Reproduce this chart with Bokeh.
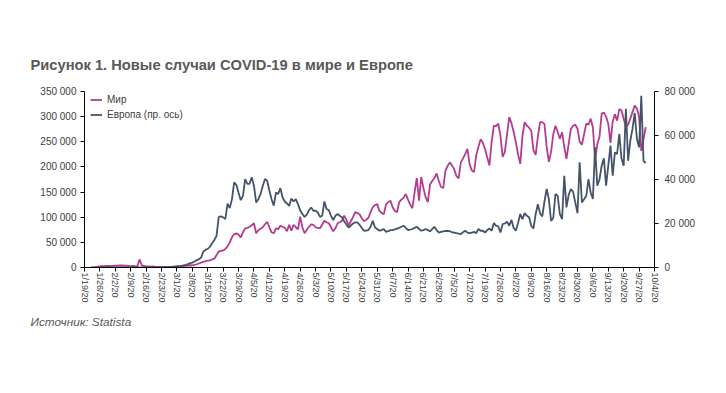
import numpy as np
import pandas as pd
from bokeh.plotting import figure
from bokeh.models import Range1d, LinearAxis, FixedTicker, Title, Legend, LegendItem
from bokeh.embed import file_html
from bokeh.resources import INLINE

# ---------------- data ----------------
axis_start = "2020-01-19"
tick_labels = ["1/19/20", "1/26/20", "2/2/20", "2/9/20", "2/16/20", "2/23/20", "3/1/20",
               "3/8/20", "3/15/20", "3/22/20", "3/29/20", "4/5/20", "4/12/20", "4/19/20",
               "4/26/20", "5/3/20", "5/10/20", "5/17/20", "5/24/20", "5/31/20", "6/7/20",
               "6/14/20", "6/21/20", "6/28/20", "7/5/20", "7/12/20", "7/19/20", "7/26/20",
               "8/2/20", "8/9/20", "8/16/20", "8/23/20", "8/30/20", "9/6/20", "9/13/20",
               "9/20/20", "9/27/20", "10/4/20"]
left_ticks = [0, 50000, 100000, 150000, 200000, 250000, 300000, 350000]
right_ticks = [0, 20000, 40000, 60000, 80000]

world_start = "2020-01-22"
world_cases = [
    500, 700, 1000, 1500,
    2000, 2500, 2800, 3000, 3000, 2800, 3200,
    3500, 3800, 4000, 4200, 3800, 3500, 3200,
    2800, 3000, 2500, 2300, 16000, 5000, 2500,
    2200, 2000, 1800, 2000, 1500, 1200, 1000,
    1200, 1000, 1100, 900, 1200, 1500, 1800,
    2000, 2200, 2000, 2800, 3300, 3800, 4500,
    4000, 5000, 6500, 8000, 9500, 11000, 12500,
    13500, 14000, 16000, 17500, 25000, 32000, 33000,
    34000, 37000, 42000, 50000, 60000, 66000, 68000,
    65000, 60000, 70000, 78000, 78500, 81000, 84000,
    88000, 68000, 74000, 77000, 80000, 86000, 91000,
    80000, 70000, 68000, 78000, 76000, 83000, 81000,
    79000, 72000, 85000, 73000, 85000, 80000, 76000,
    101000, 80000, 68000, 75000, 81000, 86000, 85000,
    80000, 79000, 78000, 85000, 93000, 90000, 88000,
    80000, 72000, 78000, 88000, 90000, 93000, 103000,
    95000, 83000, 92000, 100000, 110000, 108000, 106000,
    98000, 92000, 95000, 99000, 110000, 120000, 124000,
    126000, 113000, 108000, 106000, 125000, 130000, 133000,
    120000, 113000, 110000, 130000, 135000, 139000, 146000,
    135000, 125000, 118000, 150000, 178000, 133000, 180000,
    158000, 140000, 130000, 165000, 172000, 178000, 187000,
    172000, 160000, 158000, 192000, 202000, 209000, 203000,
    195000, 182000, 177000, 209000, 217000, 226000, 236000,
    205000, 193000, 190000, 223000, 240000, 255000, 248000,
    235000, 219000, 203000, 250000, 282000, 281000, 286000,
    262000, 220000, 230000, 265000, 299000, 287000, 270000,
    249000, 225000, 206000, 262000, 289000, 282000, 278000,
    272000, 233000, 224000, 260000, 289000, 289000, 285000,
    240000, 210000, 230000, 265000, 282000, 270000, 256000,
    269000, 240000, 216000, 246000, 275000, 282000, 284000,
    276000, 250000, 244000, 265000, 286000, 284000, 296000,
    279000, 215000, 245000, 260000, 306000, 308000, 300000,
    286000, 248000, 290000, 305000, 292000, 315000, 312000,
    296000, 279000, 284000, 296000, 309000, 322000, 316000,
    300000, 232000, 255000, 279000,
]

europe_start = "2020-01-25"
europe_cases = [
    3,
    5, 10, 15, 10, 20, 15, 10,
    15, 10, 10, 20, 15, 10, 10,
    15, 20, 10, 10, 15, 20, 10,
    15, 10, 10, 20, 30, 25, 40,
    50, 80, 100, 150, 200, 300, 400,
    500, 600, 700, 1000, 1200, 1500, 2000,
    2200, 2700, 3300, 3800, 4500, 7300, 8000,
    8500, 9400, 11000, 12500, 14400, 23000, 23200,
    22800, 22000, 29000, 27000, 31000, 38700, 37600,
    34000, 30600, 32600, 40200, 38000, 38000, 41000,
    37200, 29600, 31000, 33400, 37000, 40200, 39400,
    35000, 31000, 28100, 34100, 33400, 36100, 31800,
    30000, 29100, 28000, 31400, 30000, 31100, 28800,
    26000, 24300, 23000, 24000, 26000, 27300, 25800,
    25800, 25000, 23000, 23500, 30000, 26600, 26100,
    23500, 21600, 23500, 24300, 23500, 22800, 21000,
    19500, 18200, 19000, 20000, 20500, 20500, 19400,
    18000, 16700, 16800, 17000, 18500, 21200, 18200,
    17500, 16700, 17000, 17500, 16200, 16500, 17000,
    17000, 17300, 17700, 18000, 18500, 19000, 18000,
    17000, 17200, 17500, 18000, 18500, 17500, 16700,
    17000, 17500, 17000, 16400, 17500, 18500, 17000,
    15900, 16200, 16400, 16600, 16700, 16500, 16000,
    15900, 15600, 15400, 15200, 16000, 16700, 15900,
    15600, 15900, 16200, 15600, 17500, 16700, 16700,
    15900, 17000, 17700, 16700, 20200, 19000, 18700,
    15900, 19700, 20000, 20800, 19000, 21700, 18000,
    16700, 20200, 24300, 22000, 24700, 23500, 22800,
    19000, 17700, 24300, 28800, 24700, 23200, 30000,
    35700, 31100, 21200, 22500, 33400, 32600, 24300,
    22000, 41700, 27300, 33000, 35700, 34400, 29600,
    24700, 47800, 29600, 31000, 32600, 40200, 34100,
    31100, 54600, 37200, 40000, 46300, 49600, 37200,
    46300, 55400, 41700, 52300, 51600, 60700, 49500,
    46300, 72100, 48500, 57600, 63000, 70300, 58400,
    54600, 78100, 48500, 47500,
]


def day_index(start, n):
    d = pd.date_range(start, periods=n, freq="D")
    return np.asarray((d - pd.Timestamp(axis_start)).days)


world_x = day_index(world_start, len(world_cases))
europe_x = day_index(europe_start, len(europe_cases))
tick_pos = [7 * i for i in range(len(tick_labels))]


def fmt(v):
    return f"{v:,}".replace(",", " ")


FONT = "Liberation Sans"
TXT = "#404040"

p = figure(width=718, height=385, output_backend="svg", toolbar_location=None,
           x_range=Range1d(tick_pos[0], tick_pos[-1]), y_range=Range1d(left_ticks[0], left_ticks[-1]),
           min_border_left=84, min_border_right=64, min_border_top=91, min_border_bottom=118,
           outline_line_color=None, background_fill_color="white", border_fill_color="white")
p.title.visible = False
p.grid.visible = False
p.extra_y_ranges = {"right": Range1d(right_ticks[0], right_ticks[-1])}


def style_axis(ax, ticks, labels, size):
    ax.ticker = FixedTicker(ticks=ticks, minor_ticks=[])
    ax.major_label_overrides = {t: l for t, l in zip(ticks, labels)}
    ax.axis_line_color = "black"
    ax.axis_line_width = 1
    ax.major_tick_line_color = "black"
    ax.major_tick_in = 0
    ax.major_tick_out = 4
    ax.minor_tick_line_color = None
    ax.major_label_text_font = FONT
    ax.major_label_text_font_size = size
    ax.major_label_text_color = TXT


style_axis(p.xaxis[0], tick_pos, tick_labels, "9px")
p.xaxis[0].major_label_orientation = "vertical"
p.xaxis[0].major_label_standoff = 1

style_axis(p.yaxis[0], left_ticks, [fmt(v) for v in left_ticks], "10px")
p.yaxis[0].major_label_standoff = 4

right_axis = LinearAxis(y_range_name="right")
style_axis(right_axis, right_ticks, [fmt(v) for v in right_ticks], "10px")
right_axis.major_label_standoff = 6
p.add_layout(right_axis, "right")

r_world = p.line(world_x, world_cases, line_color="#B43C8E", line_width=1.8)
r_eu = p.line(europe_x, europe_cases, line_color="#44546A", line_width=1.8, y_range_name="right")

legend = Legend(items=[LegendItem(label="Мир", renderers=[r_world]),
                       LegendItem(label="Европа (пр. ось)", renderers=[r_eu])],
                location=(6, 145), border_line_color=None, background_fill_alpha=0,
                label_text_font=FONT, label_text_font_size="10px", label_text_color=TXT,
                glyph_width=12, glyph_height=15, label_height=15, label_standoff=5,
                spacing=0, padding=0, margin=0)
p.add_layout(legend)

title = Title(text="Рисунок 1. Новые случаи COVID-19 в мире и Европе", align="left",
              offset=-54, standoff=38, text_font=FONT, text_font_style="bold",
              text_font_size="14.7px", text_color="#595959")
p.add_layout(title, "above")

source = Title(text="Источник: Statista", align="left", offset=-54, standoff=14,
               text_font=FONT, text_font_style="italic", text_font_size="11.8px",
               text_color="#595959")
p.add_layout(source, "below")

open("out.html", "w").write(file_html(p, INLINE))
